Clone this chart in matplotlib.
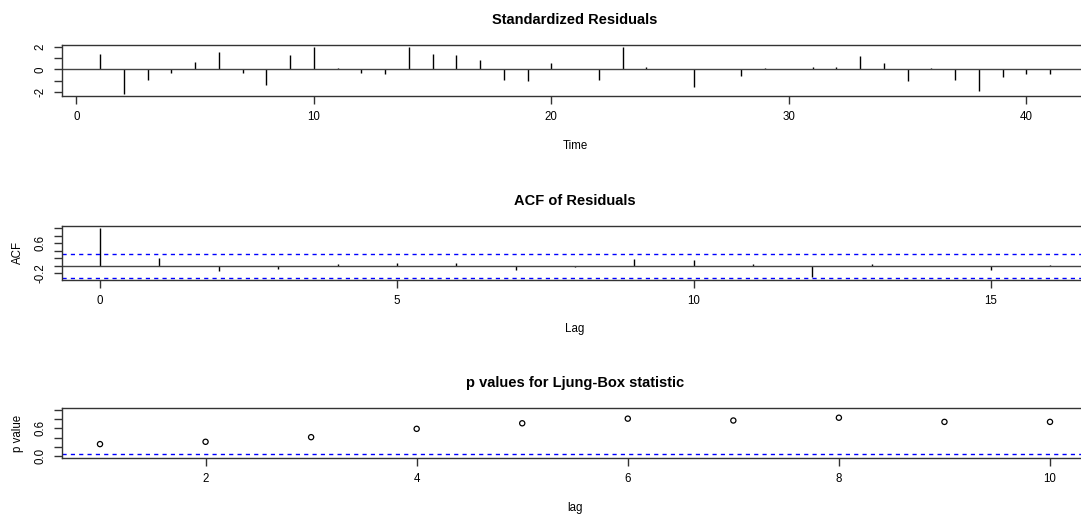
import numpy as np
import matplotlib.pyplot as plt

plt.rcParams['font.family'] = ['Liberation Sans', 'DejaVu Sans']

# standardized residuals, t = 1..41
resid = [1.35, -2.2, -0.95, -0.35, 0.7, 1.55, -0.3, -1.4, 1.3, 1.95,
         0.1, -0.35, -0.4, 1.95, 1.4, 1.3, 0.85, -0.95, -1.0, 0.6,
         0.0, -0.95, 2.0, 0.2, 0.0, -1.6, 0.0, -0.55, 0.1, 0.0,
         0.2, 0.2, 1.2, 0.6, -1.0, 0.15, -0.95, -1.9, -0.65, -0.45,
         -0.45]
time = np.arange(1, len(resid) + 1)

# ACF of residuals, lag 0..16
acf_vals = [1.0, 0.2, -0.15, -0.09, 0.04, 0.07, 0.08, -0.12, -0.04,
            0.19, 0.14, 0.04, -0.3, 0.04, 0.0, -0.1, 0.03]
lags = np.arange(len(acf_vals))
clim = 2 / np.sqrt(len(resid))

# Ljung-Box p values, lag 1..10
pvals = [0.26, 0.31, 0.41, 0.59, 0.71, 0.81, 0.77, 0.83, 0.74, 0.74]
lb_lags = np.arange(1, len(pvals) + 1)

W, H = 1081, 515
fig = plt.figure(figsize=(W / 100, H / 100), dpi=100)


def make_axes(top, bottom, left=62, right=1088):
    ax = fig.add_axes([left / W, 1 - bottom / H, (right - left) / W, (bottom - top) / H])
    for s in ax.spines.values():
        s.set_color('#333333')
        s.set_linewidth(1)
    ax.tick_params(direction='out', length=6, width=1, color='#333333',
                   labelsize=8.3, pad=5)
    return ax


def rlim(lo, hi):
    d = (hi - lo) * 0.04
    return lo - d, hi + d


blue_dash = dict(color='blue', lw=1, dashes=(3, 3))
title_kw = dict(fontsize=10.5, fontweight='bold', pad=15)
lab_kw = dict(fontsize=8.3)

# panel 1
ax1 = make_axes(45, 96)
ax1.vlines(time, 0, resid, color='black', lw=1)
ax1.axhline(0, color='#444444', lw=1)
ax1.set_xlim(rlim(1, len(resid)))
ax1.set_ylim(rlim(min(resid), max(resid)))
ax1.set_xticks([0, 10, 20, 30, 40])
ax1.set_yticks([-2, -1, 0, 1, 2])
ax1.set_yticklabels(['-2', '', '0', '', '2'], rotation=90, va='center')
ax1.set_xlabel('Time', labelpad=12, **lab_kw)
ax1.set_title('Standardized Residuals', **title_kw)

# panel 2
ax2 = make_axes(226, 279.5)
ax2.vlines(lags, 0, acf_vals, color='black', lw=1)
ax2.axhline(0, color='#444444', lw=1)
ax2.axhline(clim, **blue_dash)
ax2.axhline(-clim, **blue_dash)
ax2.set_xlim(rlim(0, lags[-1]))
ax2.set_ylim(rlim(-clim, 1))
ax2.set_xticks([0, 5, 10, 15])
ax2.set_yticks([-0.2, 0.0, 0.2, 0.4, 0.6, 0.8, 1.0])
ax2.set_yticklabels(['-0.2', '', '', '', '0.6', '', ''], rotation=90, va='center')
ax2.set_xlabel('Lag', labelpad=12, **lab_kw)
ax2.set_ylabel('ACF', labelpad=8, **lab_kw)
ax2.set_title('ACF of Residuals', **title_kw)

# panel 3
ax3 = make_axes(408, 458)
ax3.scatter(lb_lags, pvals, s=14, facecolors='none', edgecolors='black', linewidths=0.9)
ax3.axhline(0.05, **blue_dash)
ax3.set_xlim(rlim(1, 10))
ax3.set_ylim(rlim(0, 1))
ax3.set_xticks([2, 4, 6, 8, 10])
ax3.set_yticks([0.0, 0.2, 0.4, 0.6, 0.8, 1.0])
ax3.set_yticklabels(['0.0', '', '', '0.6', '', ''], rotation=90, va='center')
ax3.set_xlabel('lag', labelpad=12, **lab_kw)
ax3.set_ylabel('p value', labelpad=8, **lab_kw)
ax3.set_title('p values for Ljung-Box statistic', **title_kw)

fig.savefig('out.png', dpi=100)
